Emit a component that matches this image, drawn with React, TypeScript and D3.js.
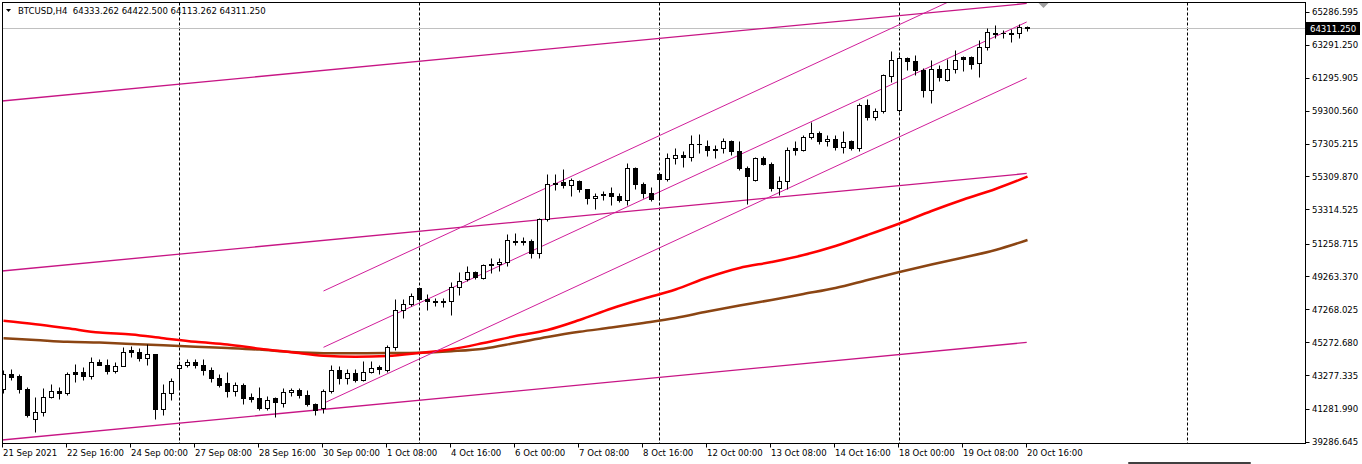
import * as d3 from 'd3';

// BTCUSD H4, 21 Sep 08:00 .. 20 Oct 16:00 (129 bars)
const opens = [42491, 43338, 43217, 42491, 40659, 41082, 41965, 42370, 42207, 43459, 43459, 43235, 44105, 43942, 43561, 43864, 44807, 44710, 44347, 44589, 41264, 42231, 43743, 43900, 44105, 43942, 43640, 43156, 42836, 42352, 42733, 41965, 41887, 41324, 41929, 41627, 42292, 42412, 42110, 41584, 41282, 42352, 43580, 43096, 43416, 42993, 43501, 43779, 43640, 45012, 47250, 47612, 48538, 47933, 47812, 47812, 47794, 48616, 49124, 49547, 49185, 50031, 50031, 50152, 51440, 51422, 51398, 50696, 52710, 54929, 54989, 54784, 55068, 54566, 54022, 54239, 54282, 54161, 53889, 55854, 54874, 54324, 55431, 55171, 56440, 56580, 56501, 57287, 57124, 56985, 57003, 57486, 56839, 55836, 55128, 56440, 56078, 54626, 55068, 57003, 56942, 57686, 57952, 57444, 57607, 57081, 57486, 57003, 59603, 58895, 59258, 61374, 59319, 62445, 62312, 61761, 60522, 61840, 61145, 61822, 62523, 62523, 62160, 63140, 63998, 63998, 63986, 63986, 64333.262];
const highs = [43640, 43700, 43380, 42612, 42007, 42533, 42793, 42594, 43501, 43985, 43779, 44384, 44263, 44305, 44105, 44988, 45031, 44910, 45152, 44607, 42793, 43096, 44184, 44245, 44305, 44245, 43779, 43338, 43501, 42872, 42836, 42249, 42594, 42026, 41989, 42533, 42533, 42533, 42388, 41627, 42473, 43942, 43840, 43700, 43658, 44184, 44142, 43942, 45109, 47933, 47933, 48278, 48580, 48235, 47975, 47975, 48943, 49547, 49886, 49584, 50031, 50394, 50394, 51845, 51905, 51664, 51543, 52812, 55431, 55431, 55775, 55231, 55128, 54566, 54324, 54421, 54645, 54342, 56138, 55914, 54977, 54705, 55461, 56743, 57045, 56839, 57807, 57891, 57547, 57202, 57650, 57547, 57486, 55932, 56501, 56537, 56198, 55370, 57105, 57486, 57789, 58617, 58049, 57849, 57849, 58091, 57547, 59766, 59966, 59464, 61520, 62886, 62686, 62523, 62686, 61882, 62354, 62051, 62402, 62958, 62626, 62584, 63593, 64301, 64500, 64198, 64240, 64549, 64422.5];
const lows = [42249, 43035, 42189, 40756, 39873, 40816, 41929, 41868, 42086, 42896, 43035, 43078, 43882, 43398, 43440, 43840, 44384, 44142, 43900, 40677, 40919, 41784, 42533, 43821, 43743, 43295, 42872, 42570, 41989, 42026, 41542, 41663, 41179, 41221, 40780, 41360, 42026, 41887, 41403, 40919, 41022, 42231, 42793, 42775, 42896, 42932, 43416, 43338, 43501, 44789, 46766, 47467, 47812, 47268, 47467, 47407, 46923, 48175, 49021, 49082, 49142, 49487, 49584, 49928, 51198, 51198, 50394, 50394, 52607, 54481, 54626, 54161, 54360, 53659, 53357, 53919, 53586, 53738, 53598, 54524, 53992, 53828, 53919, 55025, 56078, 55872, 56235, 56743, 56537, 56440, 56743, 56640, 55733, 53659, 55068, 55993, 54463, 54221, 54524, 56598, 56839, 57607, 57245, 57142, 56942, 56743, 56942, 56839, 58696, 58696, 59161, 61012, 59180, 61779, 61417, 60147, 59742, 61072, 61072, 61556, 61677, 61840, 61326, 62958, 63684, 63696, 63442, 63672, 64113.262];
const closes = [43338, 43174, 42473, 40901, 41082, 41989, 42370, 42207, 43380, 43356, 43235, 44105, 43900, 43537, 43864, 44710, 44710, 44323, 44589, 41239, 42231, 42975, 43900, 44105, 43900, 43622, 43114, 42691, 42328, 42715, 41905, 41868, 41324, 41826, 41663, 42267, 42412, 42086, 41524, 41221, 42352, 43580, 43096, 43440, 42993, 43459, 43743, 43682, 45012, 47268, 47612, 48096, 47933, 47794, 47733, 47733, 48658, 49021, 49547, 49221, 49971, 49946, 50152, 51500, 51337, 51361, 50696, 52710, 54868, 54868, 54784, 55086, 54566, 54022, 54161, 54191, 54149, 53889, 55836, 54874, 54324, 53967, 55159, 56440, 56580, 56501, 57287, 57245, 56900, 56900, 57486, 56839, 55836, 55328, 56440, 56078, 54626, 55068, 56942, 56900, 57710, 57952, 57444, 57607, 57081, 57426, 57003, 59603, 58895, 59300, 61417, 62324, 62445, 62312, 61737, 60522, 61840, 61314, 61840, 62384, 62426, 62142, 63158, 64059, 63956, 63968, 63956, 64349, 64311.25];

// moving averages, read every 4 bars
const maBars = [0, 4, 8, 12, 16, 20, 24, 28, 32, 36, 40, 44, 48, 52, 56, 60, 64, 68, 72, 76, 80, 84, 88, 92, 96, 100, 104, 108, 112, 116, 120, 124, 128];
const redMA = [46615, 46409, 46161, 45901, 45792, 45563, 45345, 45182, 44928, 44716, 44505, 44444, 44486, 44668, 44892, 45272, 45696, 46058, 46663, 47358, 47951, 48507, 49233, 49807, 50170, 50593, 51138, 51803, 52498, 53254, 53949, 54584, 55328];
const brownMA = [45557, 45454, 45345, 45297, 45218, 45133, 45049, 44970, 44873, 44728, 44656, 44650, 44662, 44686, 44777, 44928, 45272, 45635, 45950, 46204, 46482, 46784, 47177, 47540, 47872, 48235, 48598, 49082, 49565, 50019, 50442, 50896, 51500];

// trend lines as [bar, price] end points
const channelLines: [number, number][][] = [
  [[-0.19, 39407], [127.9, 45306]],
  [[-0.19, 49626], [127.9, 55524]],
  [[-0.19, 59905], [127.9, 65803]],
];
const steepLines: [number, number][][] = [
  [[40, 48417], [127.9, 68086]],
  [[40, 45012], [127.9, 64682]],
  [[40, 41627], [127.9, 61296]],
];

const gridBars = [22, 52, 82, 112, 148];
const timeLabelBars = [0, 8, 16, 24, 32, 40, 48, 56, 64, 72, 80, 88, 96, 104, 112, 120, 128];
const timeLabels = ['21 Sep 2021', '22 Sep 16:00', '24 Sep 00:00', '27 Sep 08:00', '28 Sep 16:00', '30 Sep 00:00', '1 Oct 08:00', '4 Oct 16:00', '6 Oct 00:00', '7 Oct 08:00', '8 Oct 16:00', '12 Oct 00:00', '13 Oct 08:00', '14 Oct 16:00', '18 Oct 00:00', '19 Oct 08:00', '20 Oct 16:00'];
const priceTicks = [65286.595, 63291.25, 61295.905, 59300.56, 57305.215, 55309.87, 53314.525, 51258.715, 49263.37, 47268.025, 45272.68, 43277.335, 41281.99, 39286.645];

const font = "'DejaVu Sans Condensed', 'DejaVu Sans', sans-serif";

export default function App() {
  const width = 1362;
  const height = 464;
  const left = 2.5, right = 1305.5, top = 2.5, bottom = 443.5;

  const x = d3.scaleLinear().domain([0, 128]).range([3.5, 1027.5]);
  const y = d3.scaleLinear().domain([39286.645, 65286.595]).range([442, 12]);
  const line = d3.line<[number, number]>().x((d) => x(d[0])).y((d) => y(d[1]));
  const maLine = d3.line<[number, number]>().x((d) => x(d[0])).y((d) => y(d[1])).curve(d3.curveMonotoneX);
  const snap = (v: number) => Math.round(v - 0.5) + 0.5;

  const last = closes[closes.length - 1];
  const lastY = snap(y(last));

  return (
    <div style={{ position: 'fixed', left: 0, top: 0, width, height, background: 'white' }}>
      <svg width={width} height={height} style={{ display: 'block', fontFamily: font, fontStretch: 'condensed' }}>
        <defs>
          <clipPath id="plot">
            <rect x={left} y={top} width={right - left} height={bottom - top} />
          </clipPath>
        </defs>
        <rect width={width} height={height} fill="white" />

        <g clipPath="url(#plot)">
          {/* grid */}
          {gridBars.map((b) => (
            <line key={b} x1={x(b)} x2={x(b)} y1={top} y2={bottom} stroke="black" strokeDasharray="3,2" />
          ))}
          {/* bid line */}
          <line x1={left} x2={right} y1={lastY} y2={lastY} stroke="#c0c0c0" />

          {/* moving averages */}
          <path d={maLine(maBars.map((b, k) => [b, brownMA[k]] as [number, number])) || ''} fill="none" stroke="#8b4513" strokeWidth={2.5} />
          <path d={maLine(maBars.map((b, k) => [b, redMA[k]] as [number, number])) || ''} fill="none" stroke="#ff0000" strokeWidth={2.5} />

          {/* trend lines */}
          {channelLines.map((l, k) => (
            <path key={'c' + k} d={line(l) || ''} fill="none" stroke="#c71585" strokeWidth={1.3} />
          ))}
          {steepLines.map((l, k) => (
            <path key={'s' + k} d={line(l) || ''} fill="none" stroke="#d01e9a" strokeWidth={1} />
          ))}

          {/* candles */}
          {opens.map((o, i) => {
            const c = closes[i];
            const cx = x(i);
            const yt = snap(y(Math.max(o, c)));
            const yb = snap(y(Math.min(o, c)));
            const bull = c >= o;
            return (
              <g key={i}>
                <line x1={cx} x2={cx} y1={snap(y(highs[i]))} y2={snap(y(lows[i]))} stroke="black" />
                {yb - yt < 1 ? (
                  <line x1={cx - 2.5} x2={cx + 2.5} y1={yt} y2={yt} stroke="black" />
                ) : (
                  <rect x={cx - 2} y={yt} width={4} height={yb - yt} fill={bull ? 'white' : 'black'} stroke="black" />
                )}
              </g>
            );
          })}
        </g>

        {/* frame */}
        <rect x={left} y={top} width={right - left} height={bottom - top} fill="none" stroke="black" />

        {/* header */}
        <path d="M6,9 L11,9 L8.5,12 Z" fill="black" />
        <text x={18} y={14} fontSize={9.5} fill="black" style={{ whiteSpace: 'pre' }}>
          {'BTCUSD,H4  64333.262 64422.500 64113.262 64311.250'}
        </text>

        {/* chart shift marker */}
        <path d={`M${x(130) - 5},3 L${x(130) + 5},3 L${x(130)},8 Z`} fill="#a0a0a0" />

        {/* price axis */}
        {priceTicks.map((p) => (
          <g key={p}>
            <line x1={right} x2={right + 4} y1={snap(y(p))} y2={snap(y(p))} stroke="black" />
            <text x={1312} y={y(p)} dy="0.35em" fontSize={9.5} fill="black">{p.toFixed(3)}</text>
          </g>
        ))}
        <rect x={1306} y={lastY - 6.5} width={54} height={13} fill="black" />
        <text x={1310} y={lastY} dy="0.35em" fontSize={9.5} fill="white">{last.toFixed(3)}</text>

        {/* time axis */}
        {timeLabelBars.map((b, k) => (
          <g key={b}>
            <line x1={snap(x(b)) - 1} x2={snap(x(b)) - 1} y1={bottom} y2={bottom + 4} stroke="black" />
            <text x={x(b) - 0.5} y={456} fontSize={9.5} fill="black">{timeLabels[k]}</text>
          </g>
        ))}

        <rect x={1128} y={462} width={123} height={2} rx={1} fill="#404040" />
      </svg>
    </div>
  );
}
